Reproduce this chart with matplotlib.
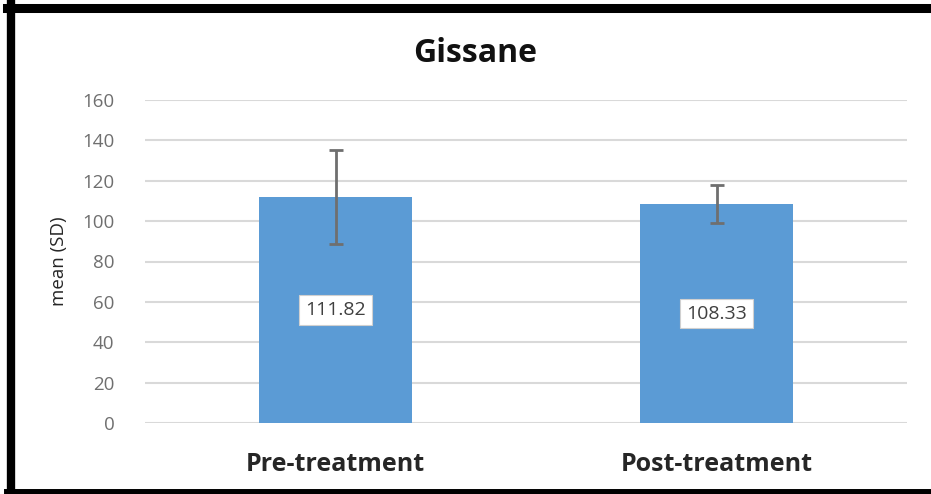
import matplotlib
matplotlib.use("Agg")
import matplotlib.pyplot as plt
from matplotlib.lines import Line2D

# data
groups = ["Pre-treatment", "Post-treatment"]
means = [111.82, 108.33]
sds = [23.3, 9.5]
yticks = [0, 20, 40, 60, 80, 100, 120, 140, 160]

plt.rcParams['font.family'] = ['Open Sans', 'DejaVu Sans']

W, H = 931, 494
fig = plt.figure(figsize=(W / 100, H / 100), dpi=100)
ax = fig.add_axes([145 / W, (H - 423) / H, (907 - 145) / W, (423 - 100) / H])

x = list(range(len(groups)))
ax.bar(x, means, width=0.4, color="#5B9BD5", zorder=3)
ax.errorbar(x, means, yerr=sds, fmt="none", ecolor="#6f6f6f", elinewidth=2,
            capsize=5, capthick=2, zorder=4)

# data labels in the middle of the bars
for xi, m in zip(x, means):
    ax.text(xi, m / 2, f"{m:.2f}", ha="center", va="center", fontsize=14,
            color="#404040", zorder=5,
            bbox=dict(boxstyle="square,pad=0.3", fc="white", ec="#d0d0d0", lw=0.8))

ax.set_xlim(-0.5, 1.5)
ax.set_ylim(0, 160)
ax.set_yticks(yticks)
ax.set_xticks(x)
ax.set_xticklabels(groups, fontsize=18, fontweight="bold", color="#262626")
ax.tick_params(axis="x", length=0, pad=21)
ax.tick_params(axis="y", length=0, pad=22, labelsize=13.5, labelcolor="#6f6f6f")
ax.yaxis.grid(True, color="#d9d9d9", lw=1.5, zorder=0)
for s in ax.spines.values():
    s.set_visible(False)

ax.set_ylabel("mean (SD)", fontsize=13.5, color="#262626", labelpad=10)
fig.text(475 / W, (H - 53) / H, "Gissane", ha="center", va="center",
         fontsize=23, fontweight="bold", color="#111111")

# black frame (left, top, bottom)
fig.add_artist(Line2D([11 / W, 11 / W], [0, 1], transform=fig.transFigure, color="black", lw=6))
fig.add_artist(Line2D([7 / W, 1], [(H - 8.5) / H, (H - 8.5) / H], transform=fig.transFigure, color="black", lw=6.5))
fig.add_artist(Line2D([7 / W, 1], [(H - 491.5) / H, (H - 491.5) / H], transform=fig.transFigure, color="black", lw=5))

fig.savefig("out.png", dpi=100)
